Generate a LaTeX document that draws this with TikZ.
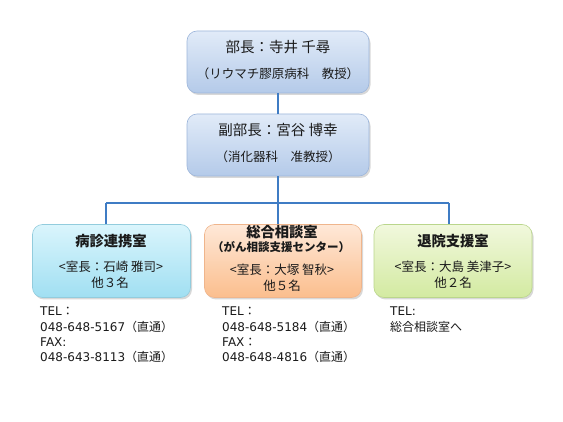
\documentclass[tikz,border=0pt]{standalone}
\usepackage{fontspec}
\setmainfont{Noto Sans CJK JP}
\newfontfamily\lat{DejaVu Sans}
\usetikzlibrary{shadows}
\definecolor{linec}{HTML}{3F7CC4}
\definecolor{txt}{HTML}{1A1A1A}
\definecolor{bluetop}{HTML}{E1EBF8}
\definecolor{bluebot}{HTML}{B4CAE9}
\definecolor{blueedge}{HTML}{9DB6DB}
\definecolor{cyantop}{HTML}{DAF5FC}
\definecolor{cyanbot}{HTML}{A0DFF2}
\definecolor{cyanedge}{HTML}{92CCDD}
\definecolor{orantop}{HTML}{FEE8D8}
\definecolor{oranbot}{HTML}{FBBE8D}
\definecolor{oranedge}{HTML}{EFB58C}
\definecolor{greentop}{HTML}{F1F8DD}
\definecolor{greenbot}{HTML}{D3EAA1}
\definecolor{greenedge}{HTML}{BAD68C}
\tikzset{
  box/.style={rounded corners=10pt, line width=0.6pt, inner sep=0pt,
    drop shadow={opacity=0.3, shadow xshift=1.5pt, shadow yshift=-2pt}},
  bluebox/.style={box, draw=blueedge, top color=bluetop, bottom color=bluebot,
    minimum width=182pt, minimum height=62pt},
  cyanbox/.style={box, draw=cyanedge, top color=cyantop, bottom color=cyanbot,
    minimum width=158pt, minimum height=73pt},
  oranbox/.style={box, draw=oranedge, top color=orantop, bottom color=oranbot,
    minimum width=157pt, minimum height=73pt},
  greenbox/.style={box, draw=greenedge, top color=greentop, bottom color=greenbot,
    minimum width=158pt, minimum height=73pt},
  conn/.style={draw=linec, line width=1.8pt},
  head/.style={text=txt, inner sep=0pt, font=\fontsize{14.5}{16}\selectfont},
  sub/.style={text=txt, inner sep=0pt, font=\fontsize{12.5}{14}\selectfont},
  bhead/.style={text=txt, inner sep=0pt, font=\fontsize{14.3}{16}\selectfont\bfseries},
  bsub/.style={text=txt, inner sep=0pt, font=\fontsize{11.5}{13}\selectfont\bfseries},
  info/.style={text=txt, inner sep=0pt, font=\fontsize{12.5}{15}\selectfont},
  note/.style={text=txt, inner sep=0pt, anchor=north west, align=left,
    font=\fontsize{12}{15.3}\selectfont}
}
\begin{document}
\begin{tikzpicture}[x=1pt,y=-1pt]
\useasboundingbox[fill=white] (0,0) rectangle (563,422);

% connector junctions
\coordinate (jL) at (106,203);
\coordinate (jM) at (278,203);
\coordinate (jR) at (449,203);

% boxes
\node[bluebox] (b1) at (278,62) {};
\node[bluebox] (b2) at (278,145) {};
\node[cyanbox] (l) at (111.5,261) {};
\node[oranbox] (m) at (283,261) {};
\node[greenbox] (r) at (453,261) {};

\draw[conn] (b1.south) -- (b2.north);
\draw[conn] (b2.south) -- (jM);
\draw[conn] (jL) -- (jR);
\draw[conn] (jL) -- (jL |- l.north);
\draw[conn] (jM) -- (jM |- m.north);
\draw[conn] (jR) -- (jR |- r.north);

% box texts
\node[head] (b1a) at (278,47) {部長：寺井 千尋};
\node[sub] (b1b) at (278,74) {（リウマチ膠原病科　教授）};
\node[head] (b2a) at (278,130) {副部長：宮谷 博幸};
\node[sub] (b2b) at (278,157) {（消化器科　准教授）};

\node[bhead] (la) at (111,241) {病診連携室};
\node[info] (lb) at (111,267) {<室長：石崎 雅司>};
\node[info] (lc) at (110,283) {他３名};

\node[bhead] (ma) at (282,232) {総合相談室};
\node[bsub] (mb) at (281,247) {（がん相談支援センター）};
\node[info] (mc) at (282,270) {<室長：大塚 智秋>};
\node[info] (md) at (282,286) {他５名};

\node[bhead] (ra) at (453,241) {退院支援室};
\node[info] (rb) at (453,267) {<室長：大島 美津子>};
\node[info] (rc) at (453,283) {他２名};

% notes below
\node[note] (ln) at (40,307) {{\lat TEL}：\\{\lat 048-648-5167}（直通）\\{\lat FAX:}\\{\lat 048-643-8113}（直通）};
\node[note] (mn) at (222,307) {{\lat TEL}：\\{\lat 048-648-5184}（直通）\\{\lat FAX}：\\{\lat 048-648-4816}（直通）};
\node[note] (rn) at (390,307) {{\lat TEL:}\\総合相談室へ};
\end{tikzpicture}
\end{document}
